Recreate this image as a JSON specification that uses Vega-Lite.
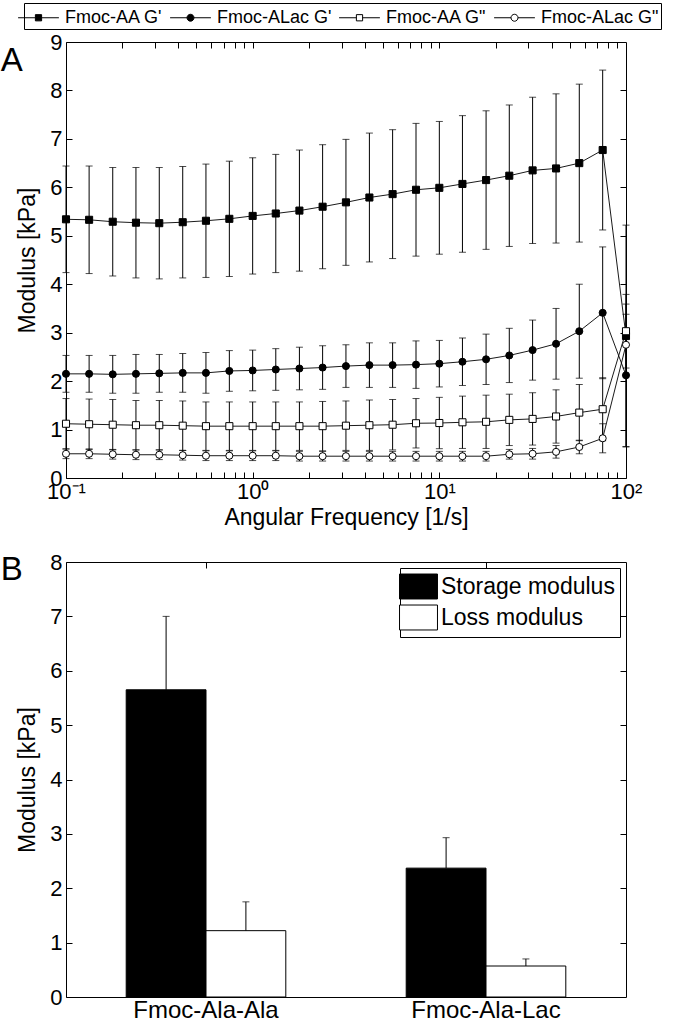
{
  "$schema": "https://vega.github.io/schema/vega-lite/v6.json",
  "padding": {"left": 0, "top": 2, "right": 0, "bottom": 0},
  "config": {
    "font": "Liberation Sans",
    "view": {"stroke": "black", "strokeWidth": 1},
    "axis": {"domain": false, "grid": false, "labelColor": "black", "labelFontSize": 22, "titleFontSize": 23, "titleFontWeight": "normal", "titleColor": "black", "tickColor": "black", "tickSize": -6, "labelPadding": 10, "labelFont": "Liberation Sans", "titleFont": "Liberation Sans"},
    "title": {"font": "Liberation Sans", "fontWeight": "normal", "color": "black"}
  },
  "resolve": {"scale": {"fill": "independent"}, "legend": {"fill": "independent"}},
  "datasets": {
    "rheo": [
      {"freq": 0.1, "series": "Fmoc-AA G'", "mod": 5.34, "err": 1.10},
      {"freq": 0.133, "series": "Fmoc-AA G'", "mod": 5.33, "err": 1.11},
      {"freq": 0.178, "series": "Fmoc-AA G'", "mod": 5.29, "err": 1.12},
      {"freq": 0.237, "series": "Fmoc-AA G'", "mod": 5.27, "err": 1.14},
      {"freq": 0.316, "series": "Fmoc-AA G'", "mod": 5.26, "err": 1.15},
      {"freq": 0.422, "series": "Fmoc-AA G'", "mod": 5.28, "err": 1.15},
      {"freq": 0.562, "series": "Fmoc-AA G'", "mod": 5.31, "err": 1.17},
      {"freq": 0.75, "series": "Fmoc-AA G'", "mod": 5.35, "err": 1.19},
      {"freq": 1, "series": "Fmoc-AA G'", "mod": 5.41, "err": 1.20},
      {"freq": 1.33, "series": "Fmoc-AA G'", "mod": 5.46, "err": 1.22},
      {"freq": 1.78, "series": "Fmoc-AA G'", "mod": 5.52, "err": 1.25},
      {"freq": 2.37, "series": "Fmoc-AA G'", "mod": 5.60, "err": 1.28},
      {"freq": 3.16, "series": "Fmoc-AA G'", "mod": 5.69, "err": 1.30},
      {"freq": 4.22, "series": "Fmoc-AA G'", "mod": 5.79, "err": 1.33},
      {"freq": 5.62, "series": "Fmoc-AA G'", "mod": 5.86, "err": 1.33},
      {"freq": 7.5, "series": "Fmoc-AA G'", "mod": 5.95, "err": 1.37},
      {"freq": 10, "series": "Fmoc-AA G'", "mod": 5.99, "err": 1.37},
      {"freq": 13.3, "series": "Fmoc-AA G'", "mod": 6.07, "err": 1.41},
      {"freq": 17.8, "series": "Fmoc-AA G'", "mod": 6.15, "err": 1.43},
      {"freq": 23.7, "series": "Fmoc-AA G'", "mod": 6.24, "err": 1.46},
      {"freq": 31.6, "series": "Fmoc-AA G'", "mod": 6.35, "err": 1.51},
      {"freq": 42.2, "series": "Fmoc-AA G'", "mod": 6.39, "err": 1.54},
      {"freq": 56.2, "series": "Fmoc-AA G'", "mod": 6.50, "err": 1.63},
      {"freq": 75, "series": "Fmoc-AA G'", "mod": 6.77, "err": 1.65},
      {"freq": 100, "series": "Fmoc-AA G'", "mod": 2.93, "err": 2.29},
      {"freq": 0.1, "series": "Fmoc-ALac G'", "mod": 2.15, "err": 0.38},
      {"freq": 0.133, "series": "Fmoc-ALac G'", "mod": 2.15, "err": 0.38},
      {"freq": 0.178, "series": "Fmoc-ALac G'", "mod": 2.14, "err": 0.39},
      {"freq": 0.237, "series": "Fmoc-ALac G'", "mod": 2.15, "err": 0.40},
      {"freq": 0.316, "series": "Fmoc-ALac G'", "mod": 2.16, "err": 0.39},
      {"freq": 0.422, "series": "Fmoc-ALac G'", "mod": 2.17, "err": 0.40},
      {"freq": 0.562, "series": "Fmoc-ALac G'", "mod": 2.17, "err": 0.42},
      {"freq": 0.75, "series": "Fmoc-ALac G'", "mod": 2.21, "err": 0.42},
      {"freq": 1, "series": "Fmoc-ALac G'", "mod": 2.22, "err": 0.42},
      {"freq": 1.33, "series": "Fmoc-ALac G'", "mod": 2.24, "err": 0.43},
      {"freq": 1.78, "series": "Fmoc-ALac G'", "mod": 2.26, "err": 0.44},
      {"freq": 2.37, "series": "Fmoc-ALac G'", "mod": 2.28, "err": 0.45},
      {"freq": 3.16, "series": "Fmoc-ALac G'", "mod": 2.31, "err": 0.44},
      {"freq": 4.22, "series": "Fmoc-ALac G'", "mod": 2.33, "err": 0.46},
      {"freq": 5.62, "series": "Fmoc-ALac G'", "mod": 2.33, "err": 0.46},
      {"freq": 7.5, "series": "Fmoc-ALac G'", "mod": 2.34, "err": 0.49},
      {"freq": 10, "series": "Fmoc-ALac G'", "mod": 2.36, "err": 0.48},
      {"freq": 13.3, "series": "Fmoc-ALac G'", "mod": 2.40, "err": 0.49},
      {"freq": 17.8, "series": "Fmoc-ALac G'", "mod": 2.45, "err": 0.52},
      {"freq": 23.7, "series": "Fmoc-ALac G'", "mod": 2.53, "err": 0.56},
      {"freq": 31.6, "series": "Fmoc-ALac G'", "mod": 2.64, "err": 0.62},
      {"freq": 42.2, "series": "Fmoc-ALac G'", "mod": 2.77, "err": 0.73},
      {"freq": 56.2, "series": "Fmoc-ALac G'", "mod": 3.03, "err": 0.97},
      {"freq": 75, "series": "Fmoc-ALac G'", "mod": 3.41, "err": 1.36},
      {"freq": 100, "series": "Fmoc-ALac G'", "mod": 2.12, "err": 1.47},
      {"freq": 0.1, "series": "Fmoc-AA G\"", "mod": 1.12, "err": 0.52},
      {"freq": 0.133, "series": "Fmoc-AA G\"", "mod": 1.11, "err": 0.52},
      {"freq": 0.178, "series": "Fmoc-AA G\"", "mod": 1.10, "err": 0.52},
      {"freq": 0.237, "series": "Fmoc-AA G\"", "mod": 1.09, "err": 0.51},
      {"freq": 0.316, "series": "Fmoc-AA G\"", "mod": 1.09, "err": 0.51},
      {"freq": 0.422, "series": "Fmoc-AA G\"", "mod": 1.08, "err": 0.51},
      {"freq": 0.562, "series": "Fmoc-AA G\"", "mod": 1.07, "err": 0.50},
      {"freq": 0.75, "series": "Fmoc-AA G\"", "mod": 1.07, "err": 0.50},
      {"freq": 1, "series": "Fmoc-AA G\"", "mod": 1.07, "err": 0.50},
      {"freq": 1.33, "series": "Fmoc-AA G\"", "mod": 1.07, "err": 0.50},
      {"freq": 1.78, "series": "Fmoc-AA G\"", "mod": 1.07, "err": 0.50},
      {"freq": 2.37, "series": "Fmoc-AA G\"", "mod": 1.07, "err": 0.51},
      {"freq": 3.16, "series": "Fmoc-AA G\"", "mod": 1.08, "err": 0.51},
      {"freq": 4.22, "series": "Fmoc-AA G\"", "mod": 1.09, "err": 0.52},
      {"freq": 5.62, "series": "Fmoc-AA G\"", "mod": 1.10, "err": 0.52},
      {"freq": 7.5, "series": "Fmoc-AA G\"", "mod": 1.13, "err": 0.51},
      {"freq": 10, "series": "Fmoc-AA G\"", "mod": 1.135, "err": 0.53},
      {"freq": 13.3, "series": "Fmoc-AA G\"", "mod": 1.15, "err": 0.54},
      {"freq": 17.8, "series": "Fmoc-AA G\"", "mod": 1.16, "err": 0.55},
      {"freq": 23.7, "series": "Fmoc-AA G\"", "mod": 1.20, "err": 0.53},
      {"freq": 31.6, "series": "Fmoc-AA G\"", "mod": 1.22, "err": 0.54},
      {"freq": 42.2, "series": "Fmoc-AA G\"", "mod": 1.27, "err": 0.55},
      {"freq": 56.2, "series": "Fmoc-AA G\"", "mod": 1.35, "err": 0.58},
      {"freq": 75, "series": "Fmoc-AA G\"", "mod": 1.42, "err": 0.65},
      {"freq": 100, "series": "Fmoc-AA G\"", "mod": 3.03, "err": 0.76},
      {"freq": 0.1, "series": "Fmoc-ALac G\"", "mod": 0.50, "err": 0.10},
      {"freq": 0.133, "series": "Fmoc-ALac G\"", "mod": 0.50, "err": 0.10},
      {"freq": 0.178, "series": "Fmoc-ALac G\"", "mod": 0.49, "err": 0.10},
      {"freq": 0.237, "series": "Fmoc-ALac G\"", "mod": 0.48, "err": 0.10},
      {"freq": 0.316, "series": "Fmoc-ALac G\"", "mod": 0.48, "err": 0.10},
      {"freq": 0.422, "series": "Fmoc-ALac G\"", "mod": 0.47, "err": 0.10},
      {"freq": 0.562, "series": "Fmoc-ALac G\"", "mod": 0.46, "err": 0.10},
      {"freq": 0.75, "series": "Fmoc-ALac G\"", "mod": 0.46, "err": 0.10},
      {"freq": 1, "series": "Fmoc-ALac G\"", "mod": 0.46, "err": 0.10},
      {"freq": 1.33, "series": "Fmoc-ALac G\"", "mod": 0.46, "err": 0.10},
      {"freq": 1.78, "series": "Fmoc-ALac G\"", "mod": 0.45, "err": 0.10},
      {"freq": 2.37, "series": "Fmoc-ALac G\"", "mod": 0.45, "err": 0.10},
      {"freq": 3.16, "series": "Fmoc-ALac G\"", "mod": 0.45, "err": 0.10},
      {"freq": 4.22, "series": "Fmoc-ALac G\"", "mod": 0.45, "err": 0.10},
      {"freq": 5.62, "series": "Fmoc-ALac G\"", "mod": 0.45, "err": 0.10},
      {"freq": 7.5, "series": "Fmoc-ALac G\"", "mod": 0.45, "err": 0.10},
      {"freq": 10, "series": "Fmoc-ALac G\"", "mod": 0.45, "err": 0.10},
      {"freq": 13.3, "series": "Fmoc-ALac G\"", "mod": 0.45, "err": 0.10},
      {"freq": 17.8, "series": "Fmoc-ALac G\"", "mod": 0.45, "err": 0.10},
      {"freq": 23.7, "series": "Fmoc-ALac G\"", "mod": 0.49, "err": 0.10},
      {"freq": 31.6, "series": "Fmoc-ALac G\"", "mod": 0.50, "err": 0.11},
      {"freq": 42.2, "series": "Fmoc-ALac G\"", "mod": 0.54, "err": 0.13},
      {"freq": 56.2, "series": "Fmoc-ALac G\"", "mod": 0.64, "err": 0.14},
      {"freq": 75, "series": "Fmoc-ALac G\"", "mod": 0.82, "err": 0.30},
      {"freq": 100, "series": "Fmoc-ALac G\"", "mod": 2.75, "err": 0.63}
    ],
    "bars": [
      {"sample": "Fmoc-Ala-Ala", "modulus": "Storage modulus", "value": 5.65, "top": 7.0},
      {"sample": "Fmoc-Ala-Ala", "modulus": "Loss modulus", "value": 1.22, "top": 1.75},
      {"sample": "Fmoc-Ala-Lac", "modulus": "Storage modulus", "value": 2.37, "top": 2.93},
      {"sample": "Fmoc-Ala-Lac", "modulus": "Loss modulus", "value": 0.57, "top": 0.70}
    ]
  },
  "vconcat": [
    {
      "width": 560,
      "height": 436,
      "title": {"text": "A", "orient": "left", "anchor": "end", "frame": "group", "angle": 0, "align": "right", "baseline": "top", "offset": -28, "dy": 3, "fontSize": 33},
      "data": {"name": "rheo"},
      "resolve": {"axis": {"x": "independent", "y": "independent"}},
      "layer": [
        {
          "mark": {"type": "errorbar", "color": "black", "thickness": 1, "ticks": {"size": 7, "thickness": 1, "color": "black"}},
          "encoding": {
            "x": {"field": "freq", "type": "quantitative", "scale": {"type": "log", "domain": [0.1, 100], "nice": false}, "axis": null},
            "y": {"field": "mod", "type": "quantitative", "scale": {"domain": [0, 9], "nice": false, "zero": false}, "axis": null},
            "yError": {"field": "err"},
            "detail": {"field": "series", "type": "nominal"}
          }
        },
        {
          "mark": {"type": "line", "color": "black", "strokeWidth": 0.9},
          "encoding": {
            "x": {"field": "freq", "type": "quantitative", "axis": {"orient": "top", "title": null, "labels": false, "values": [0.2,0.3,0.4,0.5,0.6,0.7,0.8,0.9,1,2,3,4,5,6,7,8,9,10,20,30,40,50,60,70,80,90]}},
            "y": {"field": "mod", "type": "quantitative", "axis": {"orient": "right", "title": null, "labels": false, "values": [1,2,3,4,5,6,7,8]}},
            "detail": {"field": "series", "type": "nominal"}
          }
        },
        {
          "transform": [{"filter": {"field": "series", "oneOf": ["Fmoc-AA G'", "Fmoc-AA G\""]}}],
          "mark": {"type": "point", "shape": "square", "stroke": "black", "strokeWidth": 1, "opacity": 1, "size": 50},
          "encoding": {
            "x": {"field": "freq", "type": "quantitative", "axis": {"orient": "bottom", "title": "Angular Frequency [1/s]", "values": [0.1,0.2,0.3,0.4,0.5,0.6,0.7,0.8,0.9,1,2,3,4,5,6,7,8,9,10,20,30,40,50,60,70,80,90,100], "labelExpr": "datum.value === 0.1 ? '10⁻¹' : datum.value === 1 ? '10⁰' : datum.value === 10 ? '10¹' : datum.value === 100 ? '10²' : ''", "labelOverlap": false, "labelFlush": false, "labelPadding": 9, "titlePadding": 4}},
            "y": {"field": "mod", "type": "quantitative", "axis": {"orient": "left", "title": "Modulus [kPa]", "values": [0,1,2,3,4,5,6,7,8,9], "titlePadding": 10}},
            "fill": {
              "field": "series", "type": "nominal",
              "scale": {"domain": ["Fmoc-AA G'", "Fmoc-ALac G'", "Fmoc-AA G\"", "Fmoc-ALac G\""], "range": ["black", "black", "white", "white"]},
              "legend": {
                "title": null, "orient": "none", "legendX": -42, "legendY": -39, "direction": "horizontal",
                "strokeColor": "black", "fillColor": "white", "padding": 2,
                "labelFontSize": 18, "labelColor": "black", "labelFont": "Liberation Sans", "labelOffset": 14, "labelLimit": 0,
                "symbolSize": 576, "symbolStrokeColor": "black", "symbolStrokeWidth": 1, "symbolOpacity": 1,
                "columnPadding": 5,
                "encode": {"symbols": {"update": {"shape": {"signal": "datum.index % 2 === 0 ? 'M-1.7,0H-0.26M0.26,0H1.7M-0.26,-0.26H0.26V0.26H-0.26Z' : 'M-1.7,0H-0.29M0.29,0H1.7M-0.29,0A0.29,0.29 0 1 0 0.29,0A0.29,0.29 0 1 0 -0.29,0Z'"}, "stroke": {"value": "black"}, "strokeWidth": {"value": 1}}}}
              }
            }
          }
        },
        {
          "transform": [{"filter": {"field": "series", "oneOf": ["Fmoc-ALac G'", "Fmoc-ALac G\""]}}],
          "mark": {"type": "point", "shape": "circle", "stroke": "black", "strokeWidth": 1, "opacity": 1, "size": 50},
          "encoding": {
            "x": {"field": "freq", "type": "quantitative", "axis": null},
            "y": {"field": "mod", "type": "quantitative", "axis": null},
            "fill": {"field": "series", "type": "nominal"}
          }
        }
      ]
    },
    {
      "width": 560,
      "height": 435,
      "title": {"text": "B", "orient": "left", "anchor": "end", "frame": "group", "angle": 0, "align": "right", "baseline": "top", "offset": -28, "dy": -8, "fontSize": 33},
      "data": {"name": "bars"},
      "resolve": {"axis": {"x": "independent", "y": "independent"}},
      "layer": [
        {
          "mark": {"type": "bar", "stroke": "black", "strokeWidth": 1},
          "encoding": {
            "x": {"field": "sample", "type": "nominal", "sort": null, "scale": {"paddingInner": 0.43, "paddingOuter": 0.215}, "axis": {"orient": "bottom", "title": null, "labelAngle": 0, "labelFontSize": 24, "labelPadding": 7}},
            "xOffset": {"field": "modulus", "type": "nominal", "sort": ["Storage modulus", "Loss modulus"], "scale": {"paddingInner": 0, "paddingOuter": 0}},
            "y": {"field": "value", "type": "quantitative", "scale": {"domain": [0, 8], "nice": false}, "axis": {"orient": "left", "title": "Modulus [kPa]", "values": [0,1,2,3,4,5,6,7,8], "titlePadding": 10}},
            "fill": {
              "field": "modulus", "type": "nominal", "sort": ["Storage modulus", "Loss modulus"],
              "scale": {"domain": ["Storage modulus", "Loss modulus"], "range": ["black", "white"]},
              "legend": {
                "title": null, "orient": "top-right", "offset": 6, "strokeColor": "black", "fillColor": "white", "padding": 5,
                "labelFontSize": 23, "labelColor": "black", "labelFont": "Liberation Sans", "labelOffset": 9, "labelLimit": 0,
                "labelExpr": "datum.label + '\u00a0\u00a0\u00a0'",
                "symbolType": "M-1.46,-0.96H1.46V0.96H-1.46Z", "symbolSize": 676, "symbolStrokeColor": "black", "symbolStrokeWidth": 1, "symbolOpacity": 1, "rowPadding": 2
              }
            }
          }
        },
        {
          "mark": {"type": "rule", "color": "black", "strokeWidth": 1},
          "encoding": {
            "x": {"field": "sample", "type": "nominal", "sort": null, "axis": {"orient": "top", "title": null, "labels": false}},
            "xOffset": {"field": "modulus", "type": "nominal", "sort": ["Storage modulus", "Loss modulus"]},
            "y": {"field": "value", "type": "quantitative", "axis": {"orient": "right", "title": null, "labels": false, "values": [1,2,3,4,5,6,7]}},
            "y2": {"field": "top"}
          }
        },
        {
          "mark": {"type": "tick", "color": "black", "size": 7, "thickness": 1},
          "encoding": {
            "x": {"field": "sample", "type": "nominal", "sort": null, "axis": null},
            "xOffset": {"field": "modulus", "type": "nominal", "sort": ["Storage modulus", "Loss modulus"]},
            "y": {"field": "top", "type": "quantitative", "axis": null}
          }
        }
      ]
    }
  ],
  "spacing": 20
}
